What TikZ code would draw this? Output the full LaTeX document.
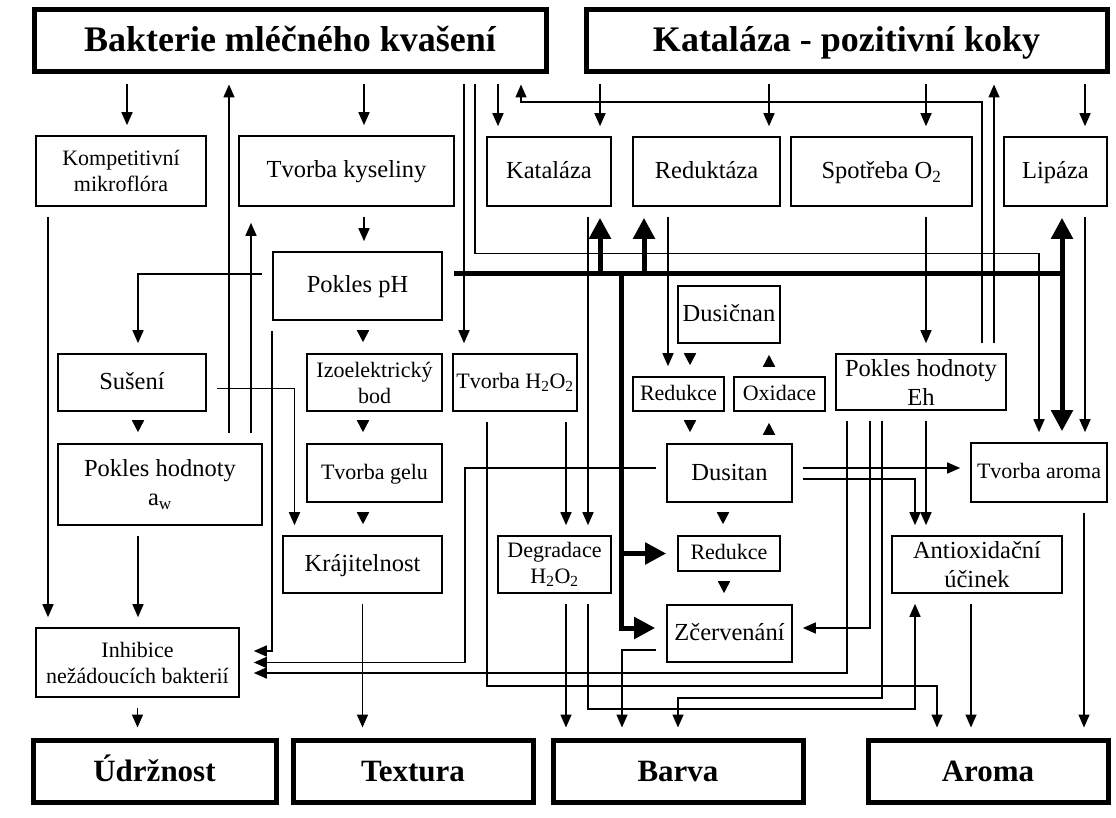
\documentclass[tikz,border=0pt]{standalone}
\usepackage{fontspec}
\setmainfont{Liberation Serif}
\usetikzlibrary{arrows.meta, calc}

\begin{document}
\begin{tikzpicture}[x=1pt, y=-1pt,
    wh/.style 2 args={minimum width=#1pt, minimum height=#2pt},
    box/.style={draw, line width=1.6pt, inner sep=0pt, align=center, font=\fontsize{24.5}{29}\selectfont},
    one/.style={text height=18.5pt, text depth=4.5pt},
    small/.style={font=\fontsize{22}{26}\selectfont},
    sone/.style={small, text height=16.5pt, text depth=4.5pt},
    head/.style={draw, line width=5pt, inner sep=0pt, text height=30pt, text depth=8pt, font=\bfseries\fontsize{36}{40}\selectfont},
    foot/.style={head, text height=27pt, text depth=7pt, font=\bfseries\fontsize{31}{36}\selectfont},
    arr/.style={line width=1.6pt, -{Triangle[length=13pt,width=11pt]}, shorten <=10pt, shorten >=10pt},
    tri/.style={line width=1.6pt, -{Triangle[length=12pt,width=12pt]}, shorten <=11pt, shorten >=11pt},
    fat/.style={line width=5pt},
    fatarr/.style={fat, -{Triangle[length=21pt,width=21pt]}, shorten >=11pt}]

    \fill[white] (0,0) rectangle (1116,818);
    \useasboundingbox (0,0) rectangle (1116,818);

    % top groups
    \node[head, wh={512}{62}] (bakt) at (290,41) {Bakterie mléčného kvašení};
    \node[head, wh={521}{62}] (kok) at (846.5,41) {Kataláza - pozitivní koky};

    % first row
    \node[box, small, wh={170}{70}] (komp) at (121,171) {Kompetitivní\\mikroflóra};
    \node[box, one, wh={215}{70}] (kys) at (346.5,171) {Tvorba kyseliny};
    \node[box, one, wh={124}{69}] (kat) at (549,171.5) {Kataláza};
    \node[box, one, wh={147}{69}] (red) at (706.5,171.5) {Reduktáza};
    \node[box, one, wh={181}{69}] (spo) at (881.5,171.5) {Spotřeba O\textsubscript{2}};
    \node[box, one, wh={103}{69}] (lip) at (1055.5,171.5) {Lipáza};

    \node[box, one, wh={169}{68}] (ph) at (357.5,286) {Pokles pH};
    \node[box, one, wh={102}{57}] (dusn) at (729,314.5) {Dusičnan};

    \node[box, one, wh={148}{57}] (sus) at (132,382.5) {Sušení};
    \node[box, small, wh={135}{57}] (izo) at (374.5,382.5) {Izoelektrický\\bod};
    \node[box, sone, wh={124}{57}] (hpe) at (515,382.5) {Tvorba H\textsubscript{2}O\textsubscript{2}};
    \node[box, sone, wh={91}{34}] (red1) at (678.5,394) {Redukce};
    \node[box, sone, wh={91}{34}] (oxi) at (779.5,394) {Oxidace};
    \node[box, wh={170}{56}] (eh) at (921,382) {Pokles hodnoty\\Eh};

    \node[box, wh={204}{81}] (aw) at (160,484.5) {Pokles hodnoty\\a\textsubscript{w}};
    \node[box, sone, wh={135}{58}] (gel) at (374.5,473) {Tvorba gelu};
    \node[box, one, wh={125}{58}] (dus) at (729.5,473) {Dusitan};
    \node[box, sone, wh={136}{59}] (tvaroma) at (1039,472.5) {Tvorba aroma};

    \node[box, one, wh={159}{57}] (kraj) at (362.5,564.5) {Krájitelnost};
    \node[box, small, wh={113}{57}] (deg) at (554.5,564.5) {Degradace\\H\textsubscript{2}O\textsubscript{2}};
    \node[box, sone, wh={102}{35}] (red2) at (729,553.5) {Redukce};
    \node[box, wh={170}{57}] (anti) at (977,564.5) {Antioxidační\\účinek};
    \node[box, one, wh={125}{57}] (zcer) at (729.5,633.5) {Zčervenání};
    \node[box, small, wh={203}{69}] (inh) at (137.5,662.5) {Inhibice\\nežádoucích bakterií};

    % results
    \node[foot, wh={243}{62}] (udrz) at (154.5,771) {Údržnost};
    \node[foot, wh={240}{62}] (textura) at (413,771) {Textura};
    \node[foot, wh={250}{62}] (barva) at (678,771) {Barva};
    \node[foot, wh={240}{62}] (arom) at (988,771) {Aroma};

    % from the top groups
    \draw[arr] ([xshift=6pt]komp.north |- bakt.south) -- ([xshift=6pt]komp.north);
    \draw[arr] ([xshift=17.5pt]kys.north |- bakt.south) -- ([xshift=17.5pt]kys.north);
    \draw[arr] ([xshift=-51pt]kat.north |- bakt.south) -- ([xshift=-51pt]kat.north);
    \draw[arr] ([xshift=51pt]kat.north |- kok.south) -- ([xshift=51pt]kat.north);
    \draw[arr] ([xshift=62.5pt]red.north |- kok.south) -- ([xshift=62.5pt]red.north);
    \draw[arr] ([xshift=44.5pt]spo.north |- kok.south) -- ([xshift=44.5pt]spo.north);
    \draw[arr] ([xshift=29.5pt]lip.north |- kok.south) -- ([xshift=29.5pt]lip.north);
    \draw[arr] ([xshift=-51pt]hpe.north |- bakt.south) -- ([xshift=-51pt]hpe.north);
    \draw[arr] ([xshift=185pt]bakt.south) -- ++(0,179) -| (tvaroma.north);

    % back to the top
    \draw[arr] ([xshift=69pt]aw.north) -- ([xshift=69pt]aw.north |- bakt.south);
    \draw[arr, shorten >=16pt] ([xshift=91pt]aw.north) -- ([xshift=91pt]aw.north |- kys.south);
    \draw[arr] ([xshift=61pt]eh.north) -- ++(0,-251) -| ([xshift=231pt]bakt.south);
    \draw[arr] ([xshift=73pt]eh.north) -- ([xshift=73pt]eh.north |- kok.south);

    % left side
    \draw[arr] ([xshift=17.5pt]kys.south) -- ([xshift=17.5pt]kys.south |- ph.north);
    \draw[arr] ([yshift=12pt]ph.west) -| ([xshift=6pt]sus.north);
    \draw[tri] ([xshift=6pt]sus.south) -- ([xshift=6pt]sus.south |- aw.north);
    \draw[arr] ([yshift=-6pt]sus.east) -| ([xshift=-68pt]kraj.north);
    \draw[arr] ([xshift=-73pt]komp.south) -- ([xshift=-73pt]komp.south |- inh.north);
    \draw[arr] ([xshift=-22pt]aw.south) -- ([xshift=-22pt]aw.south |- inh.north);
    \draw[arr] (inh.south) -- (inh.south |- udrz.north);

    % texture
    \draw[tri] ([xshift=5.5pt]ph.south) -- ([xshift=5.5pt]ph.south |- izo.north);
    \draw[tri] ([xshift=-11.5pt]izo.south) -- ([xshift=-11.5pt]izo.south |- gel.north);
    \draw[tri] ([xshift=-11.5pt]gel.south) -- ([xshift=-11.5pt]gel.south |- kraj.north);
    \draw[arr] (kraj.south) -- (kraj.south |- textura.north);
    \draw[arr, shorten >=14pt] (ph.south west) |- ([yshift=11.5pt]inh.east);

    % peroxide
    \draw[arr] ([xshift=51pt]hpe.south) -- ([xshift=51pt]hpe.south |- deg.north);
    \draw[arr] ([xshift=39pt]kat.south) -- ([xshift=39pt]kat.south |- deg.north);
    \draw[arr] ([xshift=-28pt]hpe.south) -- ++(0,274) -| ([xshift=-51pt]arom.north);
    \draw[arr] ([xshift=11.5pt]deg.south) -- ([xshift=11.5pt]deg.south |- barva.north);
    \draw[arr] ([xshift=33.5pt]deg.south) -- ++(0,115) -| ([xshift=-62pt]anti.south);

    % nitrate and nitrite
    \draw[arr] ([xshift=-38.5pt]red.south) -- ([xshift=-38.5pt]red.south |- red1.north);
    \draw[tri] ([xshift=-39pt]dusn.south) -- ([xshift=-39pt]dusn.south |- red1.north);
    \draw[tri] ([xshift=11.5pt]red1.south) -- ([xshift=11.5pt]red1.south |- dus.north);
    \draw[tri] ([xshift=39.5pt]dus.north) -- ([xshift=39.5pt]dus.north |- oxi.south);
    \draw[tri] ([xshift=-10.5pt]oxi.north) -- ([xshift=-10.5pt]oxi.north |- dusn.south);
    \draw[tri] ([xshift=-6.5pt]dus.south) -- ([xshift=-6.5pt]dus.south |- red2.north);
    \draw[tri] ([xshift=-5pt]red2.south) -- ([xshift=-5pt]red2.south |- zcer.north);
    \draw[arr] ([yshift=5pt]dus.east) -- ([yshift=5pt]dus.east -| tvaroma.west);
    \draw[arr] ([yshift=-6pt]dus.east) -| ([xshift=-62pt]anti.north);
    \draw[arr, shorten >=14pt] ([yshift=5pt]dus.west) -| ($(inh.east)+(225,0)$) -- (inh.east);
    \draw[arr] ([yshift=-16.5pt]zcer.west) -| ([xshift=-56pt]barva.north);

    % redox potential
    \draw[arr] ([xshift=44.5pt]spo.south) -- ([xshift=44.5pt]spo.south |- eh.north);
    \draw[arr] ([xshift=5pt]eh.south) -- ([xshift=5pt]eh.south |- anti.north);
    \draw[arr] ([xshift=-51pt]eh.south) |- ([yshift=5.5pt]zcer.east);
    \draw[arr] ([xshift=-39pt]eh.south) -- ++(0,287) -| (barva.north);
    \draw[arr, shorten >=14pt] ([xshift=-74pt]eh.south) |- ([yshift=-10.5pt]inh.east);

    % aroma
    \draw[arr] ([xshift=29.5pt]lip.south) -- ([xshift=29.5pt]lip.south |- tvaroma.north);
    \draw[arr] ([xshift=-6pt]anti.south) -- ([xshift=-6pt]anti.south |- arom.north);
    \draw[arr] ([xshift=45pt]tvaroma.south) -- ([xshift=45pt]tvaroma.south |- arom.north);

    % thick line from the pH drop
    \coordinate (bus) at ([yshift=12pt]ph.east);
    \draw[fat] ([xshift=11pt]bus) -- ([xshift=6.5pt]lip.south |- bus);
    \draw[fatarr] ([xshift=51pt]kat.south |- bus) -- ([xshift=51pt]kat.south);
    \draw[fatarr] ([xshift=-62.5pt]red.south |- bus) -- ([xshift=-62.5pt]red.south);
    \draw[fatarr] ([xshift=6.5pt]lip.south |- bus) -- ([xshift=6.5pt]lip.south);
    \draw[fatarr] ([xshift=23pt]tvaroma.north |- bus) -- ([xshift=23pt]tvaroma.north);
    \draw[fatarr] ([xshift=-45pt]zcer.west |- bus) |- (red2.west);
    \draw[fatarr] ([xshift=-45pt]zcer.west |- red2.west) |- ([yshift=5.5pt]zcer.west);
\end{tikzpicture}
\end{document}
